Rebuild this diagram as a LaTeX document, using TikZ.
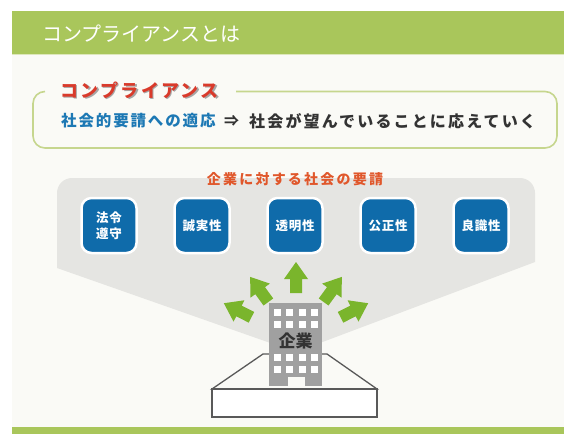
\documentclass[tikz,border=0pt]{standalone}
\usepackage{fontspec}
\setmainfont{Noto Sans CJK JP}
\definecolor{obiGreen}{HTML}{A9C65B}
\definecolor{wakuGreen}{HTML}{C6D68E}
\definecolor{yaGreen}{HTML}{7AB52C}
\definecolor{kigyoBlue}{HTML}{0F6BAA}
\definecolor{mojiBlue}{HTML}{1C78B4}
\definecolor{akaRed}{HTML}{D93A2B}
\definecolor{daidai}{HTML}{E0572B}
\definecolor{haiiro}{HTML}{E5E5E2}
\definecolor{biru}{HTML}{A0A0A0}
\definecolor{kiji}{HTML}{FAFAF6}
% red heading with a soft drop shadow
\newcommand{\kagemoji}[1]{\rlap{\raisebox{-1.6pt}{\hspace{1.6pt}\textcolor{black!35}{#1}}}\textcolor{akaRed}{#1}}
\tikzset{
  youso/.style={rectangle,rounded corners=10pt,fill=kigyoBlue,draw=white,
    line width=2.5pt,minimum size=55pt,inner sep=0pt,text=white,align=center,
    font=\fontsize{12.5}{15.5}\selectfont\bfseries\addfontfeatures{LetterSpace=6}},
  yajirushi/.style={fill=yaGreen}
}
\begin{document}
\begin{tikzpicture}[x=1pt,y=-1pt]
\useasboundingbox (0,0) rectangle (564,434);
\fill[white] (0,0) rectangle (564,434);
\fill[kiji] (12,54) rectangle (564,434);
% title bar
\fill[obiGreen] (12,11) rectangle (564,54);
\draw[wakuGreen!60,line width=1pt] (12,54.5) -- (564,54.5);
\node[anchor=west,inner sep=0pt,text=white,font=\fontsize{20}{24}\selectfont] (title) at (42,33.5) {コンプライアンスとは};

% definition box
\draw[wakuGreen,line width=1.6pt,rounded corners=12pt] (45,91.5) -- (33,91.5) -- (33,148) -- (557,148) -- (557,91.5) -- (236,91.5);
\node[anchor=west,inner sep=0pt,font=\fontsize{18}{20}\selectfont\bfseries\addfontfeatures{LetterSpace=13}] (compl) at (60,91) {\kagemoji{コンプライアンス}};
\node[anchor=west,inner sep=0pt,text=mojiBlue,font=\fontsize{15.5}{18}\selectfont\bfseries\addfontfeatures{LetterSpace=12}] (teki) at (61,121) {社会的要請への適応};
\node[anchor=west,inner sep=0pt,text=black!80,font=\fontsize{15}{18}\selectfont\bfseries] (yaji) at (224,121) {⇒};
\node[anchor=west,inner sep=0pt,text=black!80,font=\fontsize{16}{18}\selectfont\bfseries\addfontfeatures{LetterSpace=13.5}] (kotae) at (249,121) {社会が望んでいることに応えていく};

% funnel of demands
\fill[haiiro] (296,352) -- (57,268) [rounded corners=15pt] -- (57,178) -- (535,178) [sharp corners] -- (535,262) -- cycle;
\node[inner sep=0pt,text=daidai,font=\fontsize{14}{16}\selectfont\bfseries\addfontfeatures{LetterSpace=16}] (yousei) at (295,179) {企業に対する社会の要請};
\foreach \x/\txt [count=\k] in {109/{法令\\遵守},202/誠実性,295/透明性,388/公正性,481/良識性}
  \node[youso] (y\k) at (\x,225.5) {\txt};

% arrows out of the company
\foreach \ang/\r in {90/47,126/47,54/47,153/50,27/50}
  \fill[yajirushi,shift={(296,340)},rotate=\ang] (\r,-6) -- ({\r+14},-6) -- ({\r+14},-12) -- ({\r+31},0) -- ({\r+14},12) -- ({\r+14},6) -- (\r,6) -- cycle;

% base
\draw[black!65,line width=1.3pt,fill=kiji] (212,389) -- (263,354) -- (327,354) -- (377,389) -- cycle;
\draw[black!65,line width=1.3pt,fill=white] (212,389) rectangle (377,417);

% building
\fill[biru] (269,303) rectangle (322,386);
\fill[kiji] (288,377) rectangle (305,386);
\foreach \i in {0,...,3}
  \foreach \j in {309,321,354,366}
    \fill[white] ({274+12.3*\i},\j) rectangle ++(7,7);
\node[inner sep=0pt,text=black!80,font=\fontsize{17}{19}\selectfont\bfseries] (kigyo) at (295.5,341) {企業};

% bottom bar
\fill[obiGreen] (12,427) rectangle (564,434);
\end{tikzpicture}
\end{document}
